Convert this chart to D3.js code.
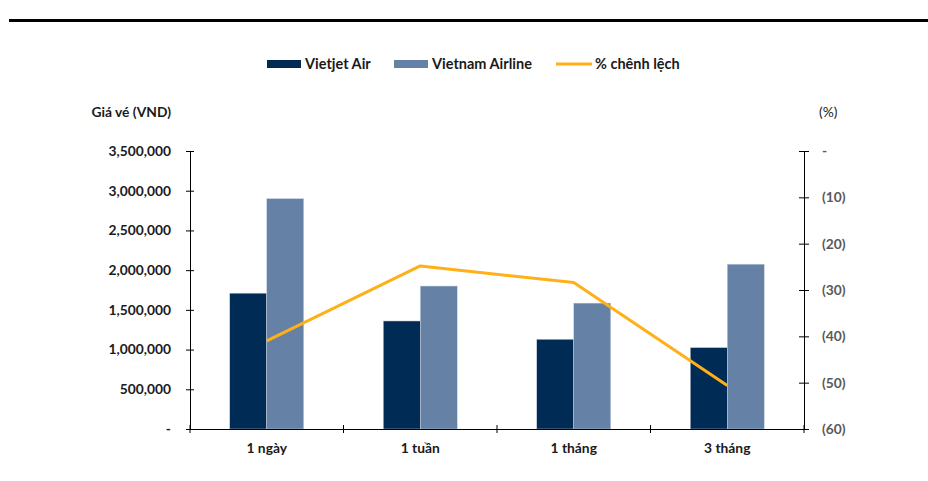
<!DOCTYPE html>
<html>
<head>
<meta charset="utf-8">
<script src="https://cdn.jsdelivr.net/npm/d3@7"></script>
<style>
  body { margin: 0; background: #fff; }
  text { font-family: Lato, "Open Sans", sans-serif; font-weight: bold; }
</style>
</head>
<body>
<div class="plots"></div>
<script>
var categories = ["1 ngày", "1 tuần", "1 tháng", "3 tháng"];
var vietjet = [1710000, 1360000, 1130000, 1025000];
var vietnam = [2900000, 1800000, 1585000, 2075000];
var chenh = [-41.0, -24.8, -28.4, -50.6];
var leftTicks = [0, 500000, 1000000, 1500000, 2000000, 2500000, 3000000, 3500000];
var rightTicks = [0, -10, -20, -30, -40, -50, -60];

var width = 928, height = 481;
var margin = {top: 151, right: 124, bottom: 52, left: 190};
var fs = 13.8;

var svg = d3.select(".plots").append("svg")
    .attr("width", width)
    .attr("height", height);

// rule under the (cut) title
svg.append("line")
    .attr("x1", 9).attr("x2", width)
    .attr("y1", 20.5).attr("y2", 20.5)
    .attr("stroke", "#000").attr("stroke-width", 3);

var x = d3.scaleBand()
    .domain(categories)
    .range([margin.left, width - margin.right]);

var y = d3.scaleLinear()
    .domain([0, 3500000])
    .range([height - margin.bottom, margin.top]);

var y2 = d3.scaleLinear()
    .domain([-60, 0])
    .range([height - margin.bottom, margin.top]);

var bw = 37;

// bars
svg.append("g").selectAll("rect")
    .data(vietjet)
    .join("rect")
    .attr("x", function(d, i) { return x(categories[i]) + x.bandwidth() / 2 - bw; })
    .attr("y", function(d) { return y(d); })
    .attr("width", bw)
    .attr("height", function(d) { return y(0) - y(d); })
    .attr("fill", "#002b55")
    .attr("stroke", "#c9d3e0").attr("stroke-width", 0.5);

svg.append("g").selectAll("rect")
    .data(vietnam)
    .join("rect")
    .attr("x", function(d, i) { return x(categories[i]) + x.bandwidth() / 2; })
    .attr("y", function(d) { return y(d); })
    .attr("width", bw)
    .attr("height", function(d) { return y(0) - y(d); })
    .attr("fill", "#6582a6")
    .attr("stroke", "#c9d3e0").attr("stroke-width", 0.5);

// left axis
var yAxis = d3.axisLeft(y)
    .tickValues(leftTicks)
    .tickSize(0)
    .tickPadding(19)
    .tickFormat(function(d) { return d == 0 ? "-" : d3.format(",")(d); });

var gy = svg.append("g")
    .attr("transform", "translate(" + margin.left + ",0)")
    .call(yAxis);
gy.select(".domain").attr("stroke", "#000");
gy.selectAll(".tick line").attr("x1", -4).attr("x2", 4).attr("stroke", "#000");
gy.selectAll("text").attr("font-size", fs).attr("fill", "#1a1a1a");

// right axis
var y2Axis = d3.axisRight(y2)
    .tickValues(rightTicks)
    .tickSize(0)
    .tickPadding(18)
    .tickFormat(function(d) { return d == 0 ? "-" : "(" + Math.abs(d) + ")"; });

var gy2 = svg.append("g")
    .attr("transform", "translate(" + (width - margin.right) + ",0)")
    .call(y2Axis);
gy2.select(".domain").attr("stroke", "#000");
gy2.selectAll(".tick line").attr("x1", -5).attr("x2", 5).attr("stroke", "#000");
gy2.selectAll("text").attr("font-size", fs).attr("fill", "#595959")
    .attr("text-anchor", "start");

// bottom axis
var xAxis = d3.axisBottom(x).tickSize(0).tickPadding(14);
var gx = svg.append("g")
    .attr("transform", "translate(0," + (height - margin.bottom) + ")")
    .call(xAxis);
gx.select(".domain").attr("stroke", "#000");
gx.selectAll("text").attr("font-size", fs).attr("fill", "#1a1a1a");

// category separators
var seps = categories.map(function(c) { return x(c); }).concat([width - margin.right]);
gx.selectAll(".sep")
    .data(seps)
    .join("line")
    .attr("class", "sep")
    .attr("x1", function(d) { return d; })
    .attr("x2", function(d) { return d; })
    .attr("y1", -4).attr("y2", 4)
    .attr("stroke", "#000");

// % line
var line = d3.line()
    .x(function(d, i) { return x(categories[i]) + x.bandwidth() / 2; })
    .y(function(d) { return y2(d); });

svg.append("path")
    .datum(chenh)
    .attr("fill", "none")
    .attr("stroke", "#ffb019")
    .attr("stroke-width", 3)
    .attr("stroke-linejoin", "round")
    .attr("d", line);

// axis titles
svg.append("text")
    .attr("x", 171).attr("y", 117)
    .attr("text-anchor", "end")
    .attr("font-size", fs)
    .attr("fill", "#1a1a1a")
    .text("Giá vé (VND)");

svg.append("text")
    .attr("x", 819).attr("y", 117)
    .attr("font-size", fs)
    .attr("fill", "#1a1a1a")
    .style("font-weight", "normal")
    .text("(%)");

// legend
var legend = svg.append("g").attr("transform", "translate(0,64)");
legend.append("rect").attr("x", 267).attr("y", -4).attr("width", 34).attr("height", 8).attr("fill", "#002b55");
legend.append("text").attr("x", 305).attr("y", 5).attr("font-size", 14.5).attr("fill", "#1a1a1a").text("Vietjet Air");
legend.append("rect").attr("x", 394).attr("y", -4).attr("width", 34).attr("height", 8).attr("fill", "#6582a6");
legend.append("text").attr("x", 432).attr("y", 5).attr("font-size", 14.5).attr("fill", "#1a1a1a").text("Vietnam Airline");
legend.append("line").attr("x1", 556).attr("x2", 592).attr("y1", 0).attr("y2", 0).attr("stroke", "#ffb019").attr("stroke-width", 3);
legend.append("text").attr("x", 595).attr("y", 5).attr("font-size", 14.5).attr("fill", "#1a1a1a").text("% chênh lệch");
</script>
</body>
</html>
